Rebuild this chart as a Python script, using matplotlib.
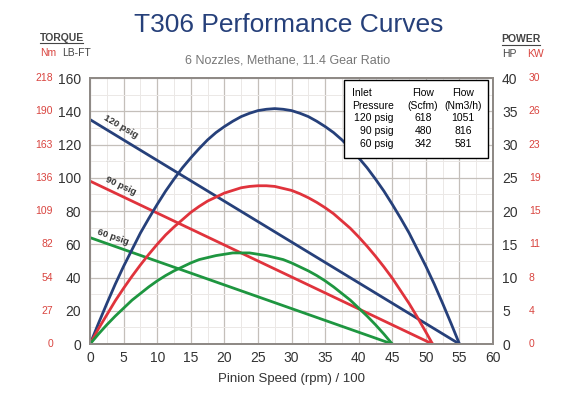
import matplotlib
matplotlib.use('Agg')
import matplotlib.pyplot as plt
from matplotlib.lines import Line2D
from matplotlib.patches import Rectangle

plt.rcParams['font.family'] = ['Liberation Sans', 'DejaVu Sans']

# 扭矩直线 (LB-FT), 端点读自图
pressures = ['120 psig', '90 psig', '60 psig']
torque_speed_120 = [0, 55]
torque_120 = [135, 0]
torque_speed_90 = [0, 51]
torque_90 = [98, 0]
torque_speed_60 = [0, 45]
torque_60 = [64, 0]

# 功率曲线 (HP), 每1.25个单位读一次
power_speed_120 = [i * 1.25 for i in range(45)]
power_120 = [0, 3.1, 6.1, 9.0, 11.7, 14.2, 16.7, 18.9, 21.0, 23.0, 24.8, 26.5, 28.0,
             29.4, 30.7, 31.8, 32.7, 33.5, 34.2, 34.7, 35.1, 35.3, 35.4, 35.3, 35.1,
             34.7, 34.2, 33.5, 32.7, 31.8, 30.7, 29.4, 28.0, 26.5, 24.8, 23.0, 21.0,
             18.9, 16.7, 14.2, 11.7, 9.0, 6.1, 3.1, 0]
power_speed_90 = [i * 1.25 for i in range(41)] + [51]
power_90 = [0, 2.3, 4.4, 6.5, 8.4, 10.2, 11.9, 13.5, 15.0, 16.4, 17.6, 18.7, 19.8,
            20.7, 21.5, 22.1, 22.7, 23.1, 23.5, 23.7, 23.8, 23.8, 23.7, 23.4, 23.1,
            22.6, 22.0, 21.3, 20.5, 19.6, 18.5, 17.4, 16.1, 14.7, 13.2, 11.6, 9.9,
            8.0, 6.1, 4.0, 1.8, 0]
power_speed_60 = [i * 1.25 for i in range(37)]
power_60 = [0, 1.5, 2.9, 4.2, 5.4, 6.6, 7.6, 8.6, 9.5, 10.3, 11.0, 11.6, 12.2, 12.7,
            13.0, 13.3, 13.5, 13.7, 13.7, 13.7, 13.5, 13.3, 13.0, 12.7, 12.2, 11.6,
            11.0, 10.3, 9.5, 8.6, 7.6, 6.6, 5.4, 4.2, 2.9, 1.5, 0]

# 坐标刻度
x_ticks = list(range(0, 65, 5))
lbft_ticks = [0, 20, 40, 60, 80, 100, 120, 140, 160]
nm_labels = ['0', '27', '54', '82', '109', '136', '163', '190', '218']
hp_ticks = [0, 5, 10, 15, 20, 25, 30, 35, 40]
kw_labels = ['0', '4', '8', '11', '15', '19', '23', '26', '30']

# 流量表
flow_scfm = ['618', '480', '342']
flow_nm3h = ['1051', '816', '581']

blue = '#26407a'
red = '#e0333c'
green = '#1e9640'
red_txt = '#d9443f'
dark = '#333333'

fig = plt.figure(figsize=(5.7, 3.95), dpi=100)
ax = fig.add_axes([0.158, 0.129, 0.707, 0.6735])
ax2 = ax.twinx()

ax.set_xlim(0, 60)
ax.set_ylim(0, 160)
ax2.set_ylim(0, 40)

# 网格
ax.set_xticks(x_ticks)
ax.set_yticks(lbft_ticks)
ax.set_xticks([x + 2.5 for x in x_ticks[:-1]], minor=True)
ax.set_yticks([y + 10 for y in lbft_ticks[:-1]], minor=True)
ax.grid(True, which='major', color='#c4bfba', linewidth=0.9)
ax.grid(True, which='minor', color='#ebe8e6', linewidth=0.7)
ax.set_axisbelow(True)
ax.tick_params(which='both', length=0)
ax.tick_params(axis='x', labelsize=10, labelcolor=dark, pad=5)
ax.tick_params(axis='y', labelsize=10, labelcolor=dark, pad=6.5)
ax2.set_yticks(hp_ticks)
ax2.tick_params(length=0, labelsize=10, labelcolor=dark, pad=6.5)
for a in (ax, ax2):
    for s in a.spines.values():
        s.set_color('#8f8a86')
        s.set_linewidth(1.4)

lw = 2.0
ax.plot(torque_speed_120, torque_120, color=blue, lw=lw)
ax.plot(torque_speed_90, torque_90, color=red, lw=lw)
ax.plot(torque_speed_60, torque_60, color=green, lw=lw)
ax2.plot(power_speed_120, power_120, color=blue, lw=lw, solid_joinstyle='round')
ax2.plot(power_speed_90, power_90, color=red, lw=lw, solid_joinstyle='round')
ax2.plot(power_speed_60, power_60, color=green, lw=lw, solid_joinstyle='round')

# 直线上的标签
ax.text(4.5, 130.5, pressures[0], rotation=-30, fontsize=6.8, fontweight='bold',
        color=dark, ha='center', va='center')
ax.text(4.5, 95, pressures[1], rotation=-25, fontsize=6.8, fontweight='bold',
        color=dark, ha='center', va='center')
ax.text(3.4, 64.5, pressures[2], rotation=-19, fontsize=6.8, fontweight='bold',
        color=dark, ha='center', va='center')

# Nm / KW 副刻度
for y, lab in zip(lbft_ticks, nm_labels):
    ax.text(-0.092, y, lab, transform=ax.get_yaxis_transform(), fontsize=7.5,
            color=red_txt, ha='right', va='center')
for y, lab in zip(hp_ticks, kw_labels):
    ax2.text(1.089, y, lab, transform=ax2.get_yaxis_transform(), fontsize=7.5,
             color=red_txt, ha='left', va='center')

# 标题
fig.text(0.507, 0.937, 'T306 Performance Curves', fontsize=19, color=blue,
         ha='center', va='center')
fig.text(0.505, 0.848, '6 Nozzles, Methane, 11.4 Gear Ratio', fontsize=9,
         color='#777777', ha='center', va='center')
ax.set_xlabel('Pinion Speed (rpm) / 100', fontsize=9.5, color=dark, labelpad=6)

# 左右轴头
fig.text(0.108, 0.904, 'TORQUE', fontsize=7.5, fontweight='bold', color='#444444',
         ha='center', va='center')
fig.add_artist(Line2D([0.070, 0.146], [0.890, 0.890], color='#444444', lw=0.8))
fig.text(0.084, 0.866, 'Nm', fontsize=7.5, color=red_txt, ha='center', va='center')
fig.text(0.134, 0.866, 'LB-FT', fontsize=7.5, color='#444444', ha='center', va='center')
fig.text(0.914, 0.901, 'POWER', fontsize=7.5, fontweight='bold', color='#444444',
         ha='center', va='center')
fig.add_artist(Line2D([0.880, 0.948], [0.887, 0.887], color='#444444', lw=0.8))
fig.text(0.893, 0.863, 'HP', fontsize=7.5, color='#444444', ha='center', va='center')
fig.text(0.939, 0.863, 'KW', fontsize=7.5, color=red_txt, ha='center', va='center')

# 流量表框
fig.add_artist(Rectangle((0.6035, 0.6), 0.2525, 0.1975, transform=fig.transFigure,
                         facecolor='white', edgecolor='black', lw=1.0, zorder=5))
row_y = [0.757, 0.725, 0.693, 0.660, 0.628]
fs = 7.5
kw = dict(fontsize=fs, va='baseline', zorder=6)
fig.text(0.618, row_y[0], 'Inlet', ha='left', **kw)
fig.text(0.618, row_y[1], 'Pressure', ha='left', **kw)
fig.text(0.742, row_y[0], 'Flow', ha='center', **kw)
fig.text(0.742, row_y[1], '(Scfm)', ha='center', **kw)
fig.text(0.812, row_y[0], 'Flow', ha='center', **kw)
fig.text(0.812, row_y[1], '(Nm3/h)', ha='center', **kw)
for i in range(3):
    fig.text(0.690, row_y[i + 2], pressures[i], ha='right', **kw)
    fig.text(0.742, row_y[i + 2], flow_scfm[i], ha='center', **kw)
    fig.text(0.812, row_y[i + 2], flow_nm3h[i], ha='center', **kw)

fig.savefig('out.png', dpi=100)
